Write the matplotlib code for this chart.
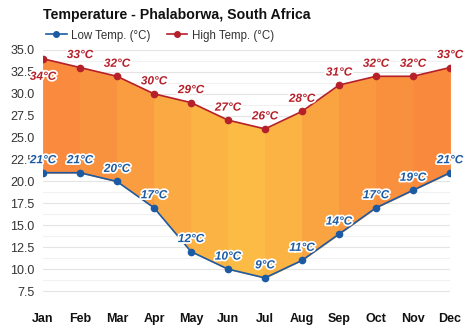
import matplotlib
matplotlib.use("Agg")
import matplotlib.pyplot as plt
import matplotlib.patheffects as pe
from matplotlib.lines import Line2D
from matplotlib.ticker import MultipleLocator

plt.rcParams['font.family'] = ['Liberation Sans', 'DejaVu Sans']

months = ["Jan", "Feb", "Mar", "Apr", "May", "Jun", "Jul", "Aug", "Sep", "Oct", "Nov", "Dec"]
high_temp = [34, 33, 32, 30, 29, 27, 26, 28, 31, 32, 32, 33]
low_temp = [21, 21, 20, 17, 12, 10, 9, 11, 14, 17, 19, 21]
band_colors = ["#f98a3e", "#f9923e", "#fa9d40", "#fba942", "#fbb343", "#fbbb45",
               "#fbb443", "#faa441", "#f9983f", "#f9903e", "#f98a3d"]

high_color = "#b5202a"
low_color = "#1c5ba3"

fig = plt.figure(figsize=(4.74, 3.31), dpi=100)
ax = fig.add_axes([43 / 474, 1 - 302 / 331, (450 - 43) / 474, (302 - 50) / 331])

x = list(range(len(months)))

# coloured band between the low and high curves, one segment per month interval
for i in range(len(months) - 1):
    ax.fill_between(x[i:i + 2], low_temp[i:i + 2], high_temp[i:i + 2],
                    color=band_colors[i], lw=0.6, edgecolor=band_colors[i], zorder=2)

ax.plot(x, high_temp, color=high_color, lw=1.2, marker="o", ms=4.5, zorder=4)
ax.plot(x, low_temp, color=low_color, lw=1.2, marker="o", ms=4.5, zorder=4)

halo = [pe.withStroke(linewidth=2.5, foreground="white")]
for i, (hi, lo) in enumerate(zip(high_temp, low_temp)):
    dy = -13 if i == 0 else 9
    ax.annotate(f"{hi}°C", (i, hi), xytext=(0, dy), textcoords="offset points",
                ha="center", va="center", fontsize=8.5, fontweight="bold",
                fontstyle="italic", color=high_color, path_effects=halo,
                zorder=6, annotation_clip=False)
    ax.annotate(f"{lo}°C", (i, lo), xytext=(0, 9), textcoords="offset points",
                ha="center", va="center", fontsize=8.5, fontweight="bold",
                fontstyle="italic", color=low_color, path_effects=halo,
                zorder=6, annotation_clip=False)

yticks = [7.5, 10, 12.5, 15, 17.5, 20, 22.5, 25, 27.5, 30, 32.5, 35]
ax.set_xlim(0, 11)
ax.set_ylim(6.25, 35)
ax.yaxis.set_minor_locator(MultipleLocator(1.25))
ax.set_yticks(yticks)
ax.set_yticklabels([f"{v:.1f}" for v in yticks])
ax.set_xticks(x)
ax.set_xticklabels(months, fontweight="bold")
ax.tick_params(axis="y", length=0, pad=6, labelsize=9, labelcolor="#333333")
ax.tick_params(axis="y", which="minor", length=0)
ax.tick_params(axis="x", length=0, pad=8, labelsize=9, labelcolor="#111111")
ax.grid(axis="y", which="major", color="#e4e4e4", lw=0.8, zorder=0)
ax.grid(axis="y", which="minor", color="#f1f1f1", lw=0.8, zorder=0)
for s in ax.spines.values():
    s.set_visible(False)

fig.text(43 / 474, 1 - 15 / 331, "Temperature - Phalaborwa, South Africa",
         fontsize=10.2, fontweight="bold", color="#111111", va="center", ha="left")

handles = [
    Line2D([], [], color=low_color, lw=1.2, marker="o", ms=4),
    Line2D([], [], color=high_color, lw=1.2, marker="o", ms=4),
]
fig.legend(handles, ["Low Temp. (°C)", "High Temp. (°C)"], loc="center left",
           bbox_to_anchor=(40 / 474, 1 - 35.5 / 331), ncol=2, frameon=False,
           fontsize=8.3, handlelength=1.8, handletextpad=0.4, columnspacing=1.4,
           labelcolor="#333333", borderpad=0.0)

fig.savefig("out.png", dpi=100)
